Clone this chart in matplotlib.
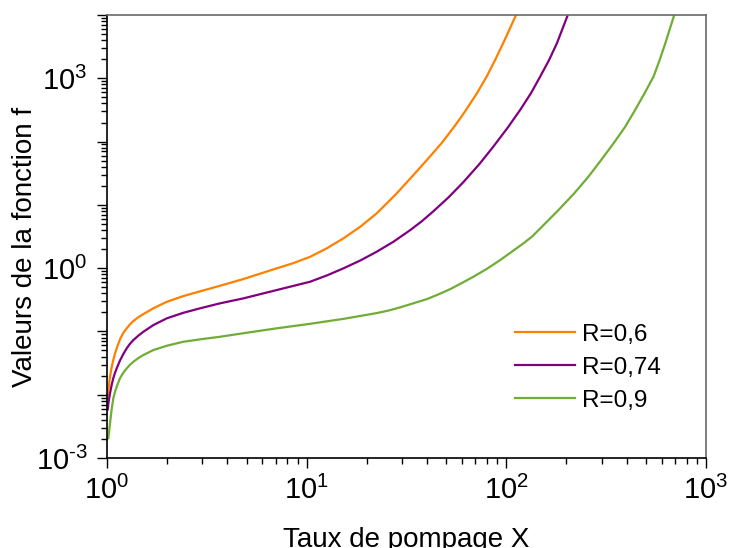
import matplotlib.pyplot as plt
from matplotlib.ticker import LogLocator, FuncFormatter, NullFormatter
import math

plt.rcParams['font.family'] = ['Liberation Sans', 'DejaVu Sans']
plt.rcParams['mathtext.fontset'] = 'custom'
plt.rcParams['mathtext.rm'] = 'Liberation Sans'
plt.rcParams['mathtext.it'] = 'Liberation Sans:italic'
plt.rcParams['axes.unicode_minus'] = False

# values (pumping rate X, function f)
x_r06 = [1.008, 1.021, 1.035, 1.054, 1.075, 1.096, 1.118, 1.161, 1.208, 1.255,
         1.303, 1.355, 1.436, 1.521, 1.706, 1.991, 2.41, 2.924, 3.681, 4.819,
         7.079, 8.57, 10.4, 12.62, 15.28, 18.54, 22.44, 28.25, 33.65, 39.99,
         47.53, 54.7, 62.23, 71.12, 79.8, 87.9, 96.6, 111.9]
f_r06 = [0.00929, 0.0138, 0.0192, 0.0269, 0.0353, 0.0447, 0.0541, 0.075, 0.0955, 0.112,
         0.129, 0.146, 0.168, 0.188, 0.232, 0.294, 0.362, 0.43, 0.527, 0.673,
         0.993, 1.2, 1.51, 2.06, 2.96, 4.51, 7.35, 15.2, 27.8, 51.1,
         95.5, 170, 302, 575, 1072, 1950, 3631, 10000]

x_r074 = [1.008, 1.021, 1.035, 1.054, 1.075, 1.096, 1.118, 1.161, 1.208, 1.255,
          1.303, 1.355, 1.436, 1.521, 1.706, 1.991, 2.41, 2.924, 3.681, 4.819,
          7.079, 10.4, 12.62, 15.28, 18.54, 22.44, 27.23, 32.96, 37.76, 43.15,
          51.29, 60.95, 73.11, 86.1, 101.6, 117.2, 132.7, 147.6, 163.7, 179.1,
          203.2]
f_r074 = [0.00587, 0.00813, 0.0105, 0.0141, 0.0182, 0.0221, 0.0261, 0.0347, 0.0442, 0.0541,
          0.0638, 0.0731, 0.0859, 0.0989, 0.126, 0.161, 0.197, 0.232, 0.278, 0.333,
          0.451, 0.61, 0.767, 0.993, 1.32, 1.82, 2.62, 3.98, 5.52, 7.94,
          13.1, 22.9, 43.7, 83.2, 166, 315, 577, 1057, 1941, 3556,
          10000]

x_r09 = [1.015, 1.035, 1.054, 1.075, 1.096, 1.118, 1.161, 1.208, 1.255, 1.303,
         1.355, 1.436, 1.521, 1.706, 1.991, 2.41, 2.924, 3.681, 5.012, 7.079,
         10.4, 15.28, 22.44, 25.7, 29.38, 34.28, 39.99, 45.71, 52.48, 60.26,
         68.39, 79.8, 93.11, 121.9, 134.9, 150.7, 182.4, 218.8, 257.6, 298.5,
         344.4, 393.6, 441.6, 492.0, 545.8, 586.1, 625.2, 693.4]
f_r09 = [0.00205, 0.00353, 0.00575, 0.00877, 0.0111, 0.0134, 0.0182, 0.0224, 0.0261, 0.0297,
         0.0332, 0.038, 0.0424, 0.0508, 0.0594, 0.0687, 0.075, 0.0824, 0.0955, 0.112,
         0.132, 0.158, 0.195, 0.214, 0.24, 0.279, 0.324, 0.385, 0.468, 0.589,
         0.731, 0.973, 1.34, 2.47, 3.18, 4.51, 8.28, 15.2, 27.8, 51.1,
         93.8, 171, 315, 577, 1057, 1941, 3556, 10000]

series = [
    (x_r06, f_r06, 'R=0,6', '#ff8000'),
    (x_r074, f_r074, 'R=0,74', '#800080'),
    (x_r09, f_r09, 'R=0,9', '#70ad35'),
]

fig = plt.figure(figsize=(7.29, 5.48), dpi=100)
ax = fig.add_axes([0.1468, 0.1642, 0.9684 - 0.1468, 0.9726 - 0.1642])

for x, f, label, color in series:
    ax.plot(x, f, color=color, lw=1.6, label=label)

ax.set_xscale('log')
ax.set_yscale('log')
ax.set_xlim(1, 1000)
ax.set_ylim(1e-3, 1e4)


def exp_text(e):
    if e < 0:
        return r'$\mathregular{10^{\text{-}%d}}$' % (-e)
    return r'$\mathregular{10^{%d}}$' % e


def pow_label(v, pos):
    return exp_text(int(round(math.log10(v))))


def y_label(v, pos):
    e = int(round(math.log10(v)))
    if e % 3 == 0:
        return exp_text(e)
    return ''


ax.xaxis.set_major_locator(LogLocator(base=10, numticks=10))
ax.xaxis.set_major_formatter(FuncFormatter(pow_label))
ax.xaxis.set_minor_locator(LogLocator(base=10, subs=range(2, 10), numticks=10))
ax.xaxis.set_minor_formatter(NullFormatter())
ax.yaxis.set_major_locator(LogLocator(base=10, numticks=12))
ax.yaxis.set_major_formatter(FuncFormatter(y_label))
ax.yaxis.set_minor_locator(LogLocator(base=10, subs=range(2, 10), numticks=12))
ax.yaxis.set_minor_formatter(NullFormatter())

ax.tick_params(which='major', direction='out', length=7, width=1, labelsize=21)
ax.tick_params(which='minor', direction='out', length=4.5, width=1)
ax.tick_params(axis='y', which='major', pad=7)
ax.tick_params(axis='x', which='major', pad=6)

for side in ['left', 'bottom']:
    ax.spines[side].set_color('black')
    ax.spines[side].set_linewidth(1.2)
for side in ['top', 'right']:
    ax.spines[side].set_color('#6a6a6a')
    ax.spines[side].set_linewidth(1.2)

ax.set_xlabel('Taux de pompage X', fontsize=20, labelpad=16)
ax.set_ylabel('Valeurs de la fonction f', fontsize=20)
ax.yaxis.set_label_coords(-0.115, 0.476)

ax.legend(loc='upper left', bbox_to_anchor=(0.665, 0.325), frameon=False,
          fontsize=17.5, handlelength=2.45, handletextpad=0.3,
          labelspacing=0.45, borderaxespad=0)

fig.savefig('out.png', dpi=100)
